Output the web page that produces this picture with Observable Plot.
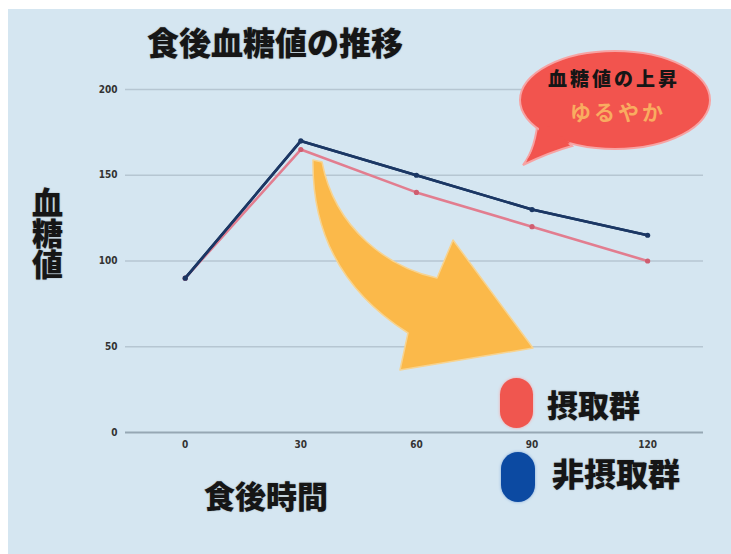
<!DOCTYPE html>
<html>
<head>
<meta charset="utf-8">
<script src="https://cdn.jsdelivr.net/npm/d3@7"></script>
<script src="https://cdn.jsdelivr.net/npm/@observablehq/plot@0.6"></script>
<style>
  body { margin: 0; background: #fff; }
  #wrap { position: relative; width: 731px; height: 554px; overflow: hidden; background: #fff; }
  #panel { position: absolute; left: 8px; top: 9px; right: 0; bottom: 0; background: #d5e6f1; }
  #deco, #plot { position: absolute; left: 0; top: 0; }
  .jp { position: absolute; font-family: "Noto Sans CJK JP", sans-serif; font-weight: 900; color: #161616; line-height: 1; white-space: nowrap; text-shadow: 0 0 1.5px rgba(0,0,0,0.35); }
  .oval { position: absolute; border-radius: 17px; }
</style>
</head>
<body>
<div id="wrap">
  <div id="panel"></div>
  <div id="plot"></div>
  <svg id="deco" width="731" height="554" xmlns="http://www.w3.org/2000/svg">
    <path d="M313 160 C312 230 340 290 408 333 L400 370 L533 348 L453 240 L437 278 C390 268 335 230 322 162 Z"
          fill="#fbb94a" stroke="#f7d390" stroke-width="1.5" stroke-linejoin="round"/>
    <path d="M538 117 Q536 148 523 165 Q550 152 572 146 Z" fill="#f2544e" stroke="#f7a3a3" stroke-width="2"/>
    <ellipse cx="615" cy="100" rx="95" ry="49" fill="#f2544e" stroke="#f7a3a3" stroke-width="2"/>
    <path d="M540 120 Q538 146 527 160 Q550 150 570 143 Z" fill="#f2544e"/>
  </svg>
  <div class="jp" id="title" style="left:147px; top:25px; font-size:32px;">食後血糖値の推移</div>
  <div class="jp" id="ylab" style="left:29px; top:187px; font-size:31px; writing-mode:vertical-rl; text-orientation:upright; width:34px;">血糖値</div>
  <div class="jp" id="xlab" style="left:204px; top:479px; font-size:31px;">食後時間</div>
  <div class="jp" style="left:548px; top:68px; font-size:19px; letter-spacing:3px; text-shadow:none;">血糖値の上昇</div>
  <div class="jp" style="left:570px; top:101px; font-size:21px; letter-spacing:3px; color:#f9ac60; font-weight:700; text-shadow:none;">ゆるやか</div>
  <div class="oval" style="left:500px; top:378px; width:33px; height:50px; background:#f0564f; box-shadow:0 0 3px #f7a0a0;"></div>
  <div class="oval" style="left:501px; top:452px; width:34px; height:50px; background:#0c4aa2; box-shadow:0 0 3px #7fa6d8;"></div>
  <div class="jp" id="leg1" style="left:547px; top:388px; font-size:31px;">摂取群</div>
  <div class="jp" id="leg2" style="left:552px; top:459px; font-size:32px; line-height:0.82;">非摂取群</div>
</div>
<script>
// ---- data ----
const times = [0, 30, 60, 90, 120];
const intake = [90, 165, 140, 120, 100];      // 摂取群
const nonIntake = [90, 170, 150, 130, 115];   // 非摂取群
const groups = ["摂取群", "非摂取群"];
const groupColors = ["#e27d8f", "#1b3764"];
const dotColors = ["#cf5e70", "#1b3764"];
const yTicks = [0, 50, 100, 150, 200];
const xTicks = [0, 30, 60, 90, 120];

const rows = [];
[intake, nonIntake].forEach((vals, gi) => {
  times.forEach((t, i) => rows.push({time: t, value: vals[i], group: groups[gi]}));
});

const chart = Plot.plot({
  width: 731,
  height: 554,
  marginLeft: 125,
  marginRight: 28,
  marginTop: 89,
  marginBottom: 122,
  style: {background: "transparent", fontFamily: "'DejaVu Sans Condensed', 'DejaVu Sans', sans-serif", fontWeight: "bold", fontSize: "10px", color: "#333", overflow: "visible"},
  x: {domain: [-15.5, 134.5], ticks: xTicks, label: null},
  y: {domain: [0, 200], ticks: yTicks, label: null},
  color: {domain: groups, range: groupColors},
  marks: [
    Plot.ruleY(yTicks.filter(d => d > 0), {stroke: "#b6c6d2", strokeWidth: 1.5}),
    Plot.ruleY([0], {stroke: "#96a7b4", strokeWidth: 2}),
    Plot.axisY({ticks: yTicks, tickSize: 0, tickPadding: 8, fontStretch: "condensed"}),
    Plot.axisX({ticks: xTicks, tickSize: 0, tickPadding: 8, fontStretch: "condensed"}),
    Plot.line(rows, {x: "time", y: "value", z: "group", stroke: "group", strokeWidth: 2.6}),
    Plot.dot(rows, {x: "time", y: "value", fill: d => dotColors[groups.indexOf(d.group)], r: 2.6}),
    Plot.line(rows.filter(d => d.group === groups[1]), {x: "time", y: "value", stroke: groupColors[1], strokeWidth: 2.6})
  ]
});
document.getElementById("plot").appendChild(chart);
</script>
</body>
</html>
